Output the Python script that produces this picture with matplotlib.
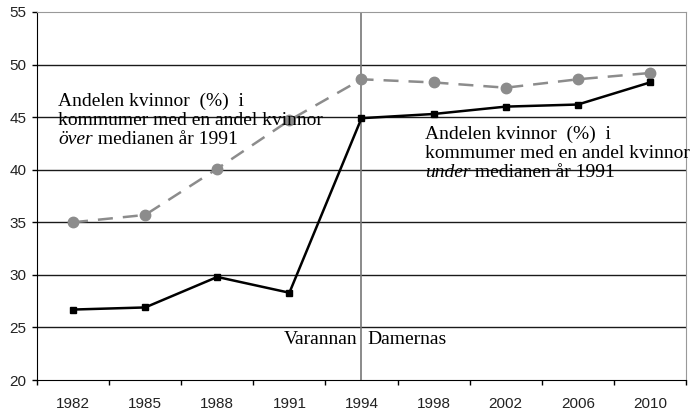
import matplotlib
matplotlib.use("Agg")
import matplotlib.pyplot as plt
import numpy as np

years = ["1982", "1985", "1988", "1991", "1994", "1998", "2002", "2006", "2010"]
over_median = [35.0, 35.7, 40.1, 44.7, 48.6, 48.3, 47.8, 48.6, 49.2]
under_median = [26.7, 26.9, 29.8, 28.3, 44.9, 45.3, 46.0, 46.2, 48.3]
yticks = [20, 25, 30, 35, 40, 45, 50, 55]

W, H = 693, 415
fig = plt.figure(figsize=(W/100, H/100), dpi=100)
L, R, T, B = 37, 686, 12, 380
ax = fig.add_axes([L/W, 1 - B/H, (R-L)/W, (B-T)/H])

x = np.arange(len(years))
ax.set_xlim(-0.5, len(years) - 0.5)
ax.set_ylim(20, 55)

for yv in yticks[1:-1]:
    ax.axhline(yv, color="#1a1a1a", lw=1.0, zorder=1)

ax.axvline(4, color="#777777", lw=1.2, zorder=1)

ax.plot(x, over_median, color="#8c8c8c", lw=1.8, dashes=(6, 4),
        marker="o", markersize=7.5, zorder=3)
ax.plot(x, under_median, color="black", lw=1.8,
        marker="s", markersize=5, zorder=4)

tickfont = dict(fontfamily="Liberation Sans", fontsize=11, color="#222222")
ax.set_yticks(yticks)
ax.set_yticklabels([str(v) for v in yticks], **tickfont)
ax.set_xticks(np.arange(-0.5, len(years)), minor=False)
ax.set_xticklabels([])
ax.set_xticks(x, minor=True)
ax.set_xticklabels(years, minor=True, **tickfont)
ax.tick_params(axis="x", which="major", direction="out", length=3.6, width=1, color="black")
ax.tick_params(axis="x", which="minor", length=0, pad=12)
ax.tick_params(axis="y", direction="out", length=3.6, width=1, pad=4)

ax.spines["left"].set_color("black")
ax.spines["bottom"].set_color("black")
ax.spines["top"].set_color("#999999")
ax.spines["right"].set_color("#999999")

serif = "Liberation Serif"
fs = 14


def px2data(px, py):
    xd = -0.5 + (px - L) / (R - L) * len(years)
    yd = 55 - (py - T) / (B - T) * 35
    return xd, yd


def block(px, baselines, italic_word):
    x0, y1 = px2data(px, baselines[0])
    _, y2 = px2data(px, baselines[1])
    _, y3 = px2data(px, baselines[2])
    ax.text(x0, y1, "Andelen kvinnor  (%)  i", fontfamily=serif, fontsize=fs,
            va="baseline", ha="left", zorder=5, clip_on=False)
    ax.text(x0, y2, "kommumer med en andel kvinnor", fontfamily=serif, fontsize=fs,
            va="baseline", ha="left", zorder=5, clip_on=False)
    t = ax.text(x0, y3, italic_word, fontfamily=serif, fontsize=fs, style="italic",
                va="baseline", ha="left", zorder=5)
    ax.annotate(" medianen år 1991", xy=(1, 0), xycoords=t, va="bottom", ha="left",
                fontfamily=serif, fontsize=fs, zorder=5)


block(58, [106, 125, 144], "över")
block(425, [139, 158, 177], "under")

xv, yv = px2data(0, 340)
ax.text(3.94, yv, "Varannan", fontfamily=serif, fontsize=fs, ha="right", va="center", zorder=5)
ax.text(4.08, yv, "Damernas", fontfamily=serif, fontsize=fs, ha="left", va="center", zorder=5)

fig.savefig("out.png", dpi=100)
